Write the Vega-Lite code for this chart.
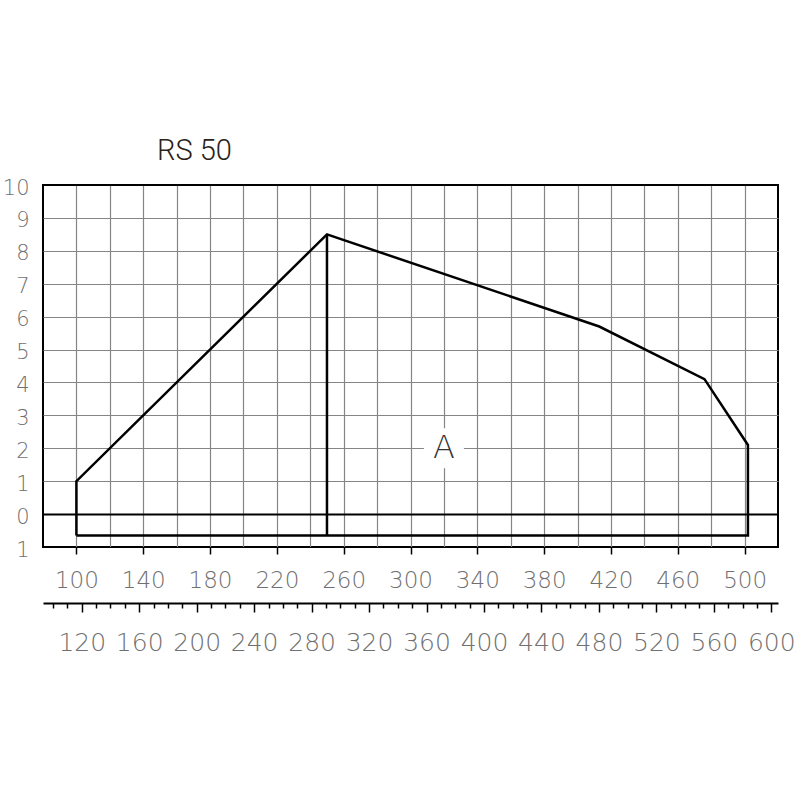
{
  "$schema": "https://vega.github.io/schema/vega-lite/v6.json",
  "autosize": "none",
  "width": 735,
  "height": 362,
  "padding": {"left": 43, "top": 185, "right": 22, "bottom": 253},
  "background": "white",
  "title": {
    "text": "RS 50",
    "anchor": "start",
    "frame": "group",
    "dx": 114,
    "offset": -12,
    "baseline": "alphabetic",
    "font": "Roboto",
    "fontSize": 29,
    "fontWeight": 300,
    "color": "#2a2218"
  },
  "config": {
    "view": {"stroke": "black", "strokeWidth": 2}
  },
  "layer": [
    {
      "layer": [
        {
          "data": {
            "values": [
              {"seg": "outline", "i": 0, "q": 100, "p": -0.65},
              {"seg": "outline", "i": 1, "q": 100, "p": 1},
              {"seg": "outline", "i": 2, "q": 250, "p": 8.5},
              {"seg": "outline", "i": 3, "q": 413, "p": 5.7},
              {"seg": "outline", "i": 4, "q": 476, "p": 4.1},
              {"seg": "outline", "i": 5, "q": 502, "p": 2.1},
              {"seg": "outline", "i": 6, "q": 502, "p": -0.65},
              {"seg": "outline", "i": 7, "q": 100, "p": -0.65},
              {"seg": "mid", "i": 0, "q": 250, "p": 8.5},
              {"seg": "mid", "i": 1, "q": 250, "p": -0.65}
            ]
          },
          "mark": {"type": "line", "color": "black", "strokeWidth": 2.5},
          "encoding": {
            "x": {
              "field": "q",
              "type": "quantitative",
              "scale": {"domain": [80, 520], "nice": false, "zero": false},
              "axis": {
                "values": [100, 120, 140, 160, 180, 200, 220, 240, 260, 280, 300, 320, 340, 360, 380, 400, 420, 440, 460, 480, 500],
                "tickCount": 500,
                "title": null,
                "grid": true,
                "gridColor": "#858585",
                "gridWidth": 1.2,
                "domain": false,
                "ticks": true,
                "tickSize": 7,
                "tickWidth": 1.5,
                "tickColor": {"condition": {"test": "datum.value % 40 != 20", "value": "transparent"}, "value": "black"},
                "labelExpr": "datum.value % 40 == 20 ? datum.label : ''",
                "labelFont": "DejaVu Sans",
                "labelFontWeight": 200,
                "labelFontSize": 23,
                "labelColor": "#707070",
                "labelPadding": 15,
                "labelFlush": false,
                "labelOverlap": false
              }
            },
            "y": {
              "field": "p",
              "type": "quantitative",
              "scale": {"domain": [-1, 10], "nice": false, "zero": false},
              "axis": {
                "values": [-1, 0, 1, 2, 3, 4, 5, 6, 7, 8, 9, 10],
                "tickCount": 500,
                "title": null,
                "grid": true,
                "gridColor": {"condition": {"test": "datum.value == 0 || datum.value == -1 || datum.value == 10", "value": "black"}, "value": "#858585"},
                "gridWidth": {"condition": {"test": "datum.value == 0", "value": 2}, "value": 1.2},
                "domain": false,
                "ticks": false,
                "labelExpr": "'' + abs(datum.value)",
                "labelFont": "DejaVu Sans",
                "labelFontWeight": 200,
                "labelFontSize": 21,
                "labelColor": "#707070",
                "labelPadding": 14,
                "labelOffset": 3,
                "labelFlush": false,
                "labelOverlap": false
              }
            },
            "detail": {"field": "seg"},
            "order": {"field": "i"}
          }
        },
        {
          "data": {"values": [{"q": 320, "p": 2, "label": "A"}]},
          "mark": {"type": "square", "size": 1600, "color": "white", "filled": true, "opacity": 1, "strokeWidth": 0},
          "encoding": {
            "x": {"field": "q", "type": "quantitative"},
            "y": {"field": "p", "type": "quantitative"}
          }
        },
        {
          "data": {"values": [{"q": 320, "p": 2, "label": "A"}]},
          "mark": {"type": "text", "font": "DejaVu Sans", "fontWeight": 200, "fontSize": 32, "color": "#333333", "baseline": "middle", "align": "center"},
          "encoding": {
            "x": {"field": "q", "type": "quantitative"},
            "y": {"field": "p", "type": "quantitative"},
            "text": {"field": "label"}
          }
        }
      ]
    },
    {
      "data": {"values": [{"kw": 120}, {"kw": 600}]},
      "mark": {"type": "point", "opacity": 0},
      "encoding": {
        "x": {
          "field": "kw",
          "type": "quantitative",
          "scale": {"domain": [93.02, 604.65], "nice": false, "zero": false},
          "axis": {
            "orient": "bottom",
            "offset": 56,
            "title": null,
            "grid": false,
            "values": [100, 110, 120, 130, 140, 150, 160, 170, 180, 190, 200, 210, 220, 230, 240, 250, 260, 270, 280, 290, 300, 310, 320, 330, 340, 350, 360, 370, 380, 390, 400, 410, 420, 430, 440, 450, 460, 470, 480, 490, 500, 510, 520, 530, 540, 550, 560, 570, 580, 590, 600],
            "tickCount": 500,
            "domain": true,
            "domainColor": "black",
            "domainWidth": 2,
            "ticks": true,
            "tickColor": "black",
            "tickWidth": 1.5,
            "tickSize": {"condition": {"test": "datum.value % 40 == 0", "value": 9}, "value": 5},
            "labelExpr": "datum.value % 40 == 0 ? datum.label : ''",
            "labelFont": "DejaVu Sans",
            "labelFontWeight": 200,
            "labelFontSize": 25,
            "labelColor": "#707070",
            "labelPadding": 18,
            "labelFlush": false,
            "labelOverlap": false
          }
        }
      }
    }
  ],
  "resolve": {"scale": {"x": "independent"}, "axis": {"x": "independent"}}
}
